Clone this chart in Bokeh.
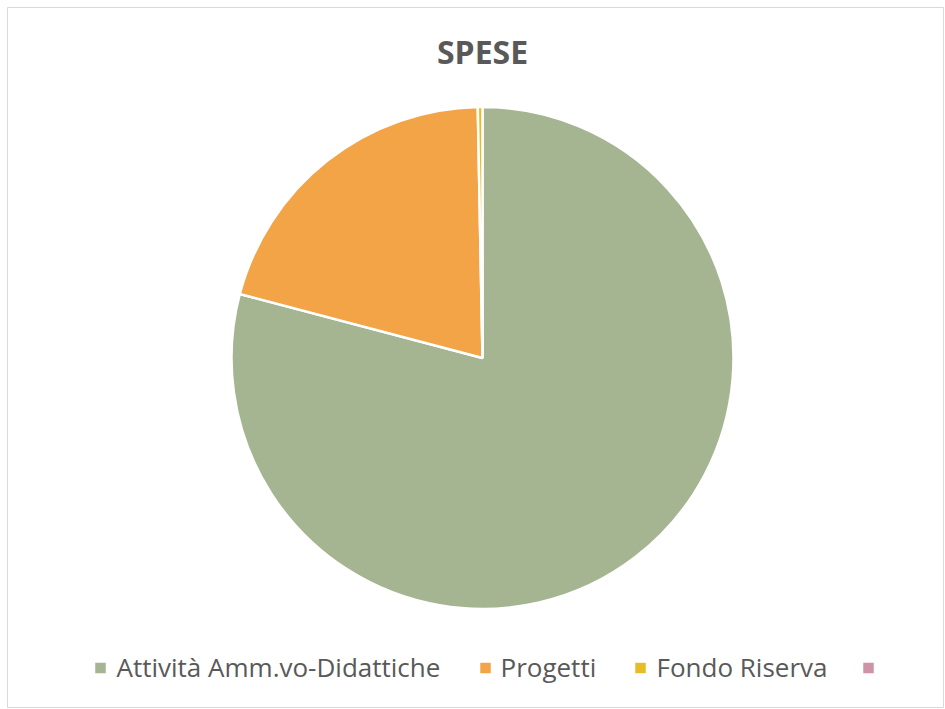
import math
from bokeh.plotting import figure
from bokeh.models import Range1d, ColumnDataSource
from bokeh.core.properties import value
from bokeh.embed import file_html
from bokeh.resources import INLINE

# ---- data ----
categories = ["Attività Amm.vo-Didattiche", "Progetti", "Fondo Riserva", ""]
values = [79.1, 20.6, 0.3, 0.0]
colors = ["#A5B592", "#F3A447", "#E7BC29", "#D092A7"]
title_text = "SPESE"

W, H = 944, 708
L, T = 7, 7
FW, FH = W - L, H - T
p = figure(width=W, height=H, output_backend="svg", toolbar_location=None,
           x_range=Range1d(0, FW), y_range=Range1d(0, FH),
           min_border_left=L, min_border_top=T, min_border_right=0, min_border_bottom=0)
p.axis.visible = False
p.grid.visible = False
p.outline_line_color = "#D9D9D9"
p.outline_line_width = 1
p.background_fill_color = "white"
p.border_fill_color = "white"

def sy(y):  # screen y -> data y
    return (H) - y

def sx(x):
    return x - L

cx, cy, r = sx(482), sy(357.5), 251
total = sum(values)
starts, ends, cols = [], [], []
cum = 0.0
for v, c in zip(values, colors):
    s = math.pi / 2 - 2 * math.pi * cum / total
    cum += v
    e = math.pi / 2 - 2 * math.pi * cum / total
    if v > 0:
        starts.append(s)
        ends.append(e)
        cols.append(c)

src = ColumnDataSource(dict(start=starts, end=ends, color=cols))
p.wedge(x=cx, y=cy, radius=r, start_angle="start", end_angle="end",
        direction="clock", fill_color="color", line_color="white",
        line_width=2.5, source=src)

# title
p.text(x=[sx(482)], y=[sy(51)], text=[title_text], text_font=value("Open Sans"),
       text_font_style="bold", text_font_size="32px", text_color="#595959",
       text_align="center", text_baseline="alphabetic")

# legend (manual)
marker_x = [100, 485, 640, 868]
text_x = [116, 500, 656, 884]
p.rect(x=[sx(v) for v in marker_x], y=[sy(667.5)] * 4, width=10.5, height=10.5,
       fill_color=colors, line_color=None)
p.text(x=[sx(v) for v in text_x], y=[sy(666.5)] * 4, text=categories,
       text_font=value("Open Sans"), text_font_size="26px", text_color="#595959",
       text_align="left", text_baseline="alphabetic")

open("out.html", "w").write(file_html(p, INLINE))
